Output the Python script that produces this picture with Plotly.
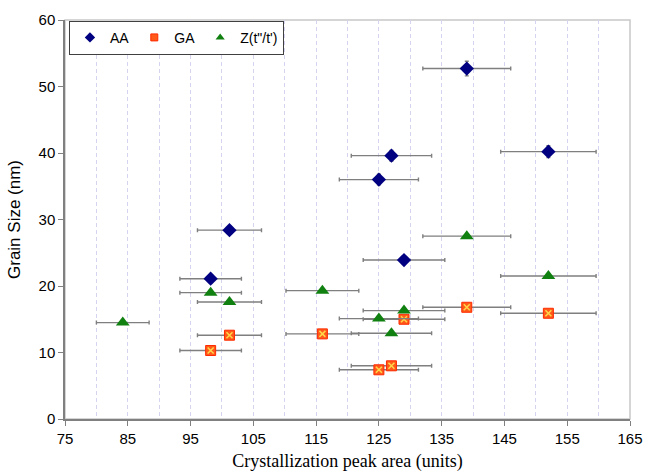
import plotly.graph_objects as go

# AA series
aa_x = [98.2, 101.2, 125.0, 127.0, 139.0, 152.0, 129.0]
aa_y = [21.1, 28.4, 36.0, 39.6, 52.7, 40.2, 23.9]
aa_xerr = [4.9, 5.1, 6.3, 6.4, 7.0, 7.6, 6.5]
aa_yerr = [0.6, 0.6, 0.8, 0.8, 1.1, 0.9, 0.6]

# GA series
ga_x = [98.2, 101.2, 116.0, 139.0, 152.0, 129.0, 127.0, 125.0]
ga_y = [10.3, 12.6, 12.8, 16.8, 15.9, 15.0, 8.0, 7.4]
ga_xerr = [4.9, 5.1, 5.8, 7.0, 7.6, 6.5, 6.4, 6.3]

# Z(t''/t') series
z_x = [84.2, 98.2, 101.2, 116.0, 139.0, 152.0, 129.0, 125.0, 127.0]
z_y = [14.5, 19.0, 17.6, 19.3, 27.5, 21.5, 16.3, 15.1, 12.9]
z_xerr = [4.2, 4.9, 5.1, 5.8, 7.0, 7.6, 6.5, 6.3, 6.4]

x_ticks = [75, 85, 95, 105, 115, 125, 135, 145, 155, 165]
y_ticks = [0, 10, 20, 30, 40, 50, 60]

err_style = dict(type="data", color="#7f7f7f", thickness=1.4, width=2)

AA_MARK = dict(symbol="diamond", color="#000080")
GA_MARK = dict(symbol="square", color="#ff5a1a", line=dict(color="#ff2a00", width=1))
Z_MARK = dict(symbol="triangle-up", color="#108010")

fig = go.Figure()
fig.add_trace(go.Scatter(
    x=aa_x, y=aa_y, mode="markers", name="AA", showlegend=False,
    marker=dict(size=11, **AA_MARK),
    error_x=dict(array=aa_xerr, **err_style),
    error_y=dict(array=aa_yerr, **err_style),
))
fig.add_trace(go.Scatter(
    x=ga_x, y=ga_y, mode="markers", name="GA", showlegend=False,
    marker=dict(size=10, **GA_MARK),
    error_x=dict(array=ga_xerr, **err_style),
))
fig.add_trace(go.Scatter(
    x=ga_x, y=ga_y, mode="markers", name="GA", showlegend=False,
    marker=dict(symbol="x-thin", size=6, color="#ffd84a",
                line=dict(color="#ffd84a", width=1.5)),
    hoverinfo="skip",
))
fig.add_trace(go.Scatter(
    x=z_x, y=z_y, mode="markers", name="Z(t\"/t')", showlegend=False,
    marker=dict(size=12, **Z_MARK),
    error_x=dict(array=z_xerr, **err_style),
))

# legend entries with smaller symbols, as in the reference
for name, mk, sz in [("AA", AA_MARK, 8), ("GA", GA_MARK, 7), ("Z(t\"/t')", Z_MARK, 8)]:
    fig.add_trace(go.Scatter(x=[None], y=[None], mode="markers", name=name,
                             marker=dict(size=sz, **mk), showlegend=True,
                             hoverinfo="skip"))

fig.add_shape(type="rect", xref="paper", yref="paper", x0=0, y0=0, x1=1, y1=1,
              line=dict(color="#c8c8c8", width=1.5), layer="below")

fig.update_layout(
    width=648, height=472,
    margin=dict(l=65, r=18, t=20, b=53, autoexpand=False),
    paper_bgcolor="white", plot_bgcolor="white",
    font=dict(family="Liberation Sans, Arial, sans-serif", color="black"),
    showlegend=True,
    legend=dict(orientation="h", x=0.007, y=0.998, xanchor="left", yanchor="top",
                bgcolor="white", bordercolor="#404040", borderwidth=1,
                font=dict(size=14), itemwidth=30, itemsizing="trace",
                tracegroupgap=0),
    xaxis=dict(
        range=[75, 165], tickvals=x_ticks, ticktext=[str(v) for v in x_ticks],
        showgrid=True, gridcolor="#d4d4f0", griddash="4px,3px", gridwidth=1,
        minor=dict(dtick=5, tick0=75, showgrid=True, gridcolor="#d4d4f0",
                   griddash="4px,3px", gridwidth=1),
        showline=True, linecolor="#808080", linewidth=1.5,
        ticks="outside", ticklen=5, tickcolor="#808080",
        tickfont=dict(size=15), zeroline=False, automargin=False,
        ticklabeloverflow="allow",
        title=dict(text="Crystallization peak area (units)",
                   font=dict(family="Liberation Serif, Times New Roman, serif", size=18),
                   standoff=12),
    ),
    yaxis=dict(
        range=[0, 60], tickvals=y_ticks, showgrid=False,
        showline=True, linecolor="#808080", linewidth=1.5,
        ticks="outside", ticklen=5, tickcolor="#808080",
        tickfont=dict(size=15), zeroline=False, automargin=False,
        title=dict(text="Grain Size (nm)", font=dict(size=17), standoff=14),
    ),
)

fig.write_html(
    "out.html",
    config={"displayModeBar": False},
    post_script="document.body.style.margin='0';document.body.style.overflow='hidden';",
)
